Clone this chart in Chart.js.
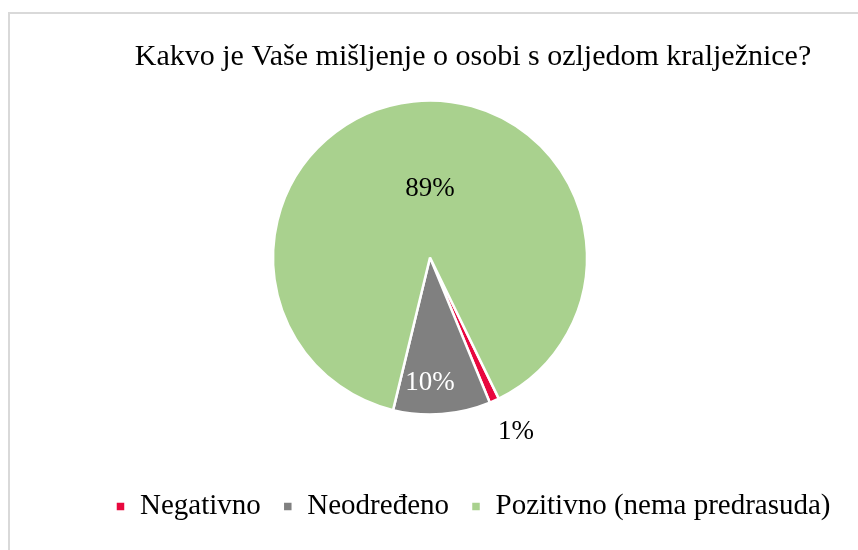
<!DOCTYPE html>
<html>
<head>
<meta charset="utf-8">
<script src="https://cdn.jsdelivr.net/npm/chart.js@4.4.1/dist/chart.umd.min.js"></script>
<style>
  html, body { margin: 0; padding: 0; background: #fff; overflow: hidden; }
  body { width: 858px; height: 550px; position: relative; }
  #frame { position: absolute; left: 8px; top: 12px; width: 900px; height: 600px;
           border-top: 2px solid #d9d9d9; border-left: 2px solid #d9d9d9; }
  #wrap { position: absolute; left: 0; top: 0; width: 946px; height: 550px; }
</style>
</head>
<body>
<div id="frame"></div>
<div id="wrap"><canvas id="c"></canvas></div>
<script>
const titleText = 'Kakvo je Vaše mišljenje o osobi s ozljedom kralježnice?';
const categories = ['Negativno', 'Neodređeno', 'Pozitivno (nema predrasuda)'];
const values = [1, 10, 89];
const percentLabels = ['1%', '10%', '89%'];
const colors = ['#E8083E', '#808080', '#A9D18E'];
const labelColors = ['#000000', '#FFFFFF', '#000000'];

const SHIFT_X = -43;
const SHIFT_Y = -29;

const shiftPlugin = {
  id: 'shiftPie',
  beforeDatasetsDraw(chart) { chart.ctx.save(); chart.ctx.translate(SHIFT_X, SHIFT_Y); },
  afterDatasetsDraw(chart) {
    const ctx = chart.ctx;
    const meta = chart.getDatasetMeta(0);
    ctx.font = '27px "Liberation Serif", "Times New Roman", serif';
    ctx.textAlign = 'center';
    ctx.textBaseline = 'middle';
    meta.data.forEach((arc, i) => {
      const p = arc.getProps(['x', 'y', 'startAngle', 'endAngle', 'outerRadius'], true);
      let x, y;
      if (i === 0) {
        const mid = (p.startAngle + p.endAngle) / 2 - 0.035;
        x = p.x + Math.cos(mid) * p.outerRadius * 1.24;
        y = p.y + Math.sin(mid) * p.outerRadius * 1.24;
      } else if (i === 1) {
        x = p.x; y = p.y + p.outerRadius * 0.8;
      } else {
        x = p.x; y = p.y - p.outerRadius * 0.44;
      }
      ctx.fillStyle = labelColors[i];
      ctx.fillText(percentLabels[i], x, y);
    });
    ctx.restore();
  }
};

new Chart(document.getElementById('c'), {
  type: 'pie',
  data: {
    labels: categories,
    datasets: [{
      data: values,
      backgroundColor: colors,
      borderColor: '#ffffff',
      borderWidth: 2.5,
      radius: 157
    }]
  },
  options: {
    responsive: true,
    maintainAspectRatio: false,
    animation: false,
    rotation: 154,
    layout: { padding: { top: 0, bottom: 19, left: 0, right: 0 } },
    plugins: {
      title: {
        display: true,
        text: titleText,
        color: '#000',
        font: { family: '"Liberation Serif", "Times New Roman", serif', size: 30, weight: 'normal' },
        padding: { top: 39, bottom: 28 }
      },
      legend: {
        position: 'bottom',
        labels: {
          color: '#000',
          font: { family: '"Liberation Serif", "Times New Roman", serif', size: 29 },
          boxWidth: 10,
          boxHeight: 10,
          padding: 22
        }
      },
      tooltip: { enabled: false }
    }
  },
  plugins: [shiftPlugin]
});
</script>
</body>
</html>
